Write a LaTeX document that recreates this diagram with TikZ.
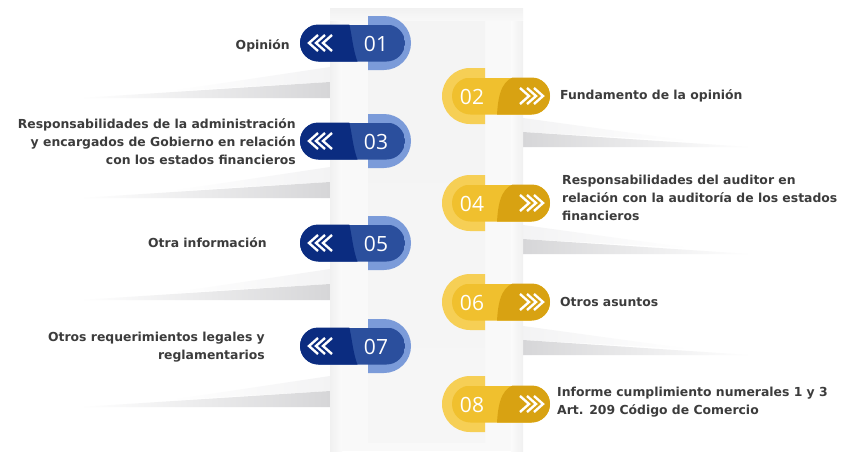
\documentclass[tikz,border=0pt]{standalone}
\usepackage{fontspec}
\setmainfont{DejaVu Sans}
\newfontfamily\numfont{Open Sans}
\definecolor{navy}{HTML}{0B2C80}
\definecolor{midblue}{HTML}{2B4F9D}
\definecolor{tabblue}{HTML}{7B9BD9}
\definecolor{ylight}{HTML}{F0C02E}
\definecolor{ydark}{HTML}{D8A212}
\definecolor{ytab}{HTML}{F6CF55}
\definecolor{txt}{HTML}{3C3C3C}
\definecolor{shad}{HTML}{D6D6D8}
\definecolor{shadlt}{HTML}{F3F3F4}
\tikzset{
  lbl/.style={font=\bfseries\fontsize{12.4}{18}\selectfont, text=txt, inner sep=0pt},
  lbll/.style={lbl, anchor=east, align=right},
  lblr/.style={lbl, anchor=west, align=left},
  num/.style={font=\numfont\fontsize{21}{21}\selectfont, text=white, inner sep=0pt},
  chev/.style={white, line width=2.4pt, line cap=butt, line join=miter},
}
\newcommand\BluePill[2]{%
  \fill[tabblue] (368,#1-27) -- (384,#1-27) arc[start angle=90,end angle=-90,radius=27pt] -- (368,#1+27) -- cycle;
  \begin{scope}
    \clip[rounded corners=18.5pt] (300,#1-18.5) rectangle (405,#1+18.5);
    \fill[midblue] (300,#1-18.5) rectangle (405,#1+18.5);
    \fill[navy] (295,#1-20) -- (349,#1-20) .. controls (352,#1-8) and (353,#1+8) .. (358,#1+20) -- (295,#1+20) -- cycle;
  \end{scope}
  \draw[chev] (318,#1-8) -- (309,#1) -- (318,#1+8);
  \draw[chev] (325,#1-8) -- (316,#1) -- (325,#1+8);
  \draw[chev] (332,#1-8) -- (323,#1) -- (332,#1+8);
  \node[num] (n#2) at (376,#1+1) {#2};
}
\newcommand\YellowPill[2]{%
  \fill[ytab] (485,#1-28) -- (470,#1-28) arc[start angle=90,end angle=270,radius=28pt] -- (485,#1+28) -- cycle;
  \begin{scope}
    \clip[rounded corners=18.5pt] (452,#1-18.5) rectangle (550,#1+18.5);
    \fill[ylight] (452,#1-18.5) rectangle (550,#1+18.5);
    \fill[ydark] (517,#1-20) .. controls (504,#1-17) and (498,#1-6) .. (497,#1+20) -- (555,#1+20) -- (555,#1-20) -- cycle;
  \end{scope}
  \draw[chev] (520,#1-8) -- (529,#1) -- (520,#1+8);
  \draw[chev] (527,#1-8) -- (536,#1) -- (527,#1+8);
  \draw[chev] (534,#1-8) -- (543,#1) -- (534,#1+8);
  \node[num] (n#2) at (472,#1+1) {#2};
}
\newcommand\LeftShadow[1]{%
  \shade[left color=white, right color=shadlt] (330,#1+24) -- (330,#1+39) -- (170,#1+48) -- cycle;
  \shade[left color=white, right color=shad] (330,#1+39) -- (330,#1+55) -- (80,#1+55) -- cycle;
}
\newcommand\RightShadow[1]{%
  \shade[right color=white, left color=shadlt] (523,#1+22) -- (523,#1+36) -- (690,#1+45) -- cycle;
  \shade[right color=white, left color=shad] (523,#1+36) -- (523,#1+51) -- (750,#1+51) -- cycle;
}
\begin{document}
\begin{tikzpicture}[x=1pt,y=-1pt]
\useasboundingbox (0,0) rectangle (843,451);
\fill[white] (0,0) rectangle (843,451);
% shadows
\LeftShadow{43}
\LeftShadow{143}
\LeftShadow{245}
\LeftShadow{352}
\RightShadow{96}
\RightShadow{203}
\RightShadow{304}
% frame
\fill[white!95!gray] (330,8) rectangle (523,451);
\shade[top color=white!89!gray, bottom color=white!95!gray] (330,8) rectangle (523,21);
\shade[left color=white!88!gray, right color=white!97!gray] (330,21) rectangle (342,451);
\shade[left color=white!97!gray, right color=white!88!gray] (511,21) rectangle (523,451);
\shade[top color=white!91!gray, bottom color=white!93!gray] (368,21) rectangle (485,442);
% items
\BluePill{43}{01}
\BluePill{141}{03}
\BluePill{243}{05}
\BluePill{346}{07}
\YellowPill{96}{02}
\YellowPill{203}{04}
\YellowPill{302}{06}
\YellowPill{404}{08}
% labels
\node[lbll] (t01) at (290,46) {Opinión};
\node[lbll] (t03) at (296,142) {Responsabilidades de la administración\\y encargados de Gobierno en relación\\con los estados financieros};
\node[lbll] (t05) at (267,243) {Otra información};
\node[lbll] (t07) at (265,347) {Otros requerimientos legales y\\reglamentarios};
\node[lblr] (t02) at (560,96) {Fundamento de la opinión};
\node[lblr] (t04) at (562,198) {Responsabilidades del auditor en\\relación con la auditoría de los estados\\financieros};
\node[lblr] (t06) at (560,302) {Otros asuntos};
\node[lblr] (t08) at (557,402) {Informe cumplimiento numerales 1 y 3\\Art. 209 Código de Comercio};
\end{tikzpicture}
\end{document}
